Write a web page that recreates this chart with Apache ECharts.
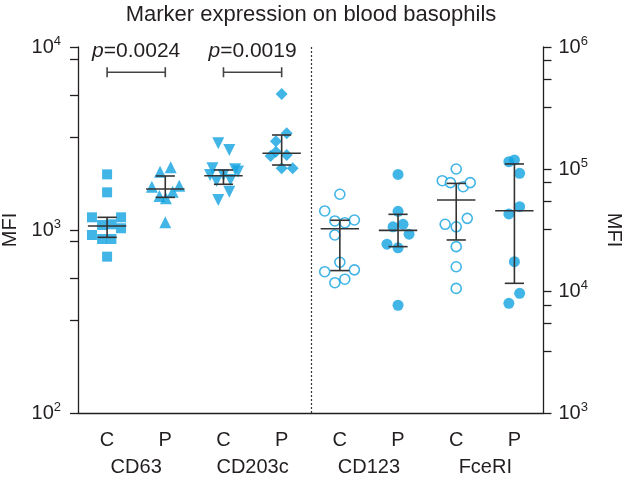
<!DOCTYPE html>
<html><head><meta charset="utf-8">
<script src="https://cdn.jsdelivr.net/npm/echarts@6/dist/echarts.min.js"></script>
<style>html,body{margin:0;padding:0;background:#fff}#c{width:622px;height:480px}</style>
</head><body><div id="c"></div>
<script>
// ---- data ----
const categories = ['C','P','C','P','C','P','C','P'];
const groups = ['CD63','CD203c','CD123','FceRI'];

// left axis (MFI 10^2..10^4)
const cd63C = [2014,1606,1173,1173,1065,1074,1022,939,893,893,715];
const cd63CJit = [0,0,-0.26,0.24,-0.086,0.074,0.24,-0.26,-0.086,0.074,0];
const cd63P = [2084,2203,1725,1745,1619,1534,1489,1102];
const cd63PJit = [-0.09,0.093,-0.23,0.24,0.127,-0.10,0.01,0];
const cd203cC = [2978,2735,2175,2147,2085,1999,1999,1854,1877,1620,1459];
const cd203cCJit = [-0.09,0.10,-0.19,0.20,0.25,-0.23,0,-0.12,0.12,0.10,-0.09];
const cd203cP = [5532,3376,3055,2678,2536,2568,2174,2174];
const cd203cPJit = [0,0.086,-0.098,-0.098,-0.19,0.086,0,0.19];

// right axis (MFI 10^3..10^6)
const cd123C = [62100,45300,37500,36300,38200,28800,17200,14400,14900,11700,12500];
const cd123CJit = [0,-0.26,-0.086,0.086,0.25,-0.086,0,-0.26,0.25,-0.086,0.086];
const cd123P = [90300,45000,33600,35200,29200,24200,22600,7640];
const cd123PJit = [0,0,-0.086,0.086,0.19,-0.19,0,0];
const fceriC = [100000,80200,77300,71600,77300,35200,33600,39400,23100,15800,10500];
const fceriCJit = [0,-0.24,-0.10,0.12,0.24,-0.19,0,0.19,0,0,0];
const fceriP = [114800,118600,92200,49100,42800,17400,9580,7930];
const fceriPJit = [-0.095,0,0.09,0.09,-0.095,0,0.09,-0.095];

// summary lines: [category index, centre line, lower bar, upper bar]
const summaryLeft = [[0,1052,912,1173],[1,1675,1508,1973],[2,1980,1778,2128],[3,2625,2265,3305]];
const summaryRight = [[4,32400,14700,38000],[5,31400,23100,42500],[6,55700,26200,76200],[7,45500,11560,110000]];

// significance brackets: [from cat, to cat, level (MFI), label]
const pBrackets = [[0,1,7280,'0.0024'],[2,3,7280,'0.0019']];

// axis ticks (log10 units)
const leftTicks = [2,2.508,2.736,2.94,3,3.508,3.734,3.934,4];
const rightTicks = [3,3.508,3.737,3.885,4,4.508,4.735,4.888,5,5.506,5.735,5.888,6];

// ---- chart ----
const BLUE = '#12a2e0';
const INK = '#231f20';
const FONT = 'Liberation Sans, Arial, Helvetica, sans-serif';
const L = Math.log10;

function pts(vals, jit, idx){ return vals.map((v,i)=>[idx+0.5+jit[i], L(v)]); }

const supRich = {
  b:{fontSize:20,lineHeight:24,fontFamily:FONT,color:INK},
  s:{fontSize:13,lineHeight:16,fontFamily:FONT,color:INK,verticalAlign:'top'}
};
function powFmt(v){ return '{b|10}{s|' + Math.round(v) + '}'; }

function summaryItem(params, api){
  const i = api.value(0), m = api.value(1), lo = api.value(2), hi = api.value(3);
  const pm = api.coord([i+0.5, m]);
  const pl = api.coord([i+0.5, lo]);
  const ph = api.coord([i+0.5, hi]);
  const hw = api.size([0.33,0])[0];
  const cw = api.size([0.165,0])[0];
  const st = {stroke:'#333',lineWidth:1.6};
  return {type:'group',children:[
    {type:'line',shape:{x1:pm[0]-hw,y1:pm[1],x2:pm[0]+hw,y2:pm[1]},style:st},
    {type:'line',shape:{x1:pl[0],y1:pl[1],x2:ph[0],y2:ph[1]},style:st},
    {type:'line',shape:{x1:pl[0]-cw,y1:pl[1],x2:pl[0]+cw,y2:pl[1]},style:st},
    {type:'line',shape:{x1:ph[0]-cw,y1:ph[1],x2:ph[0]+cw,y2:ph[1]},style:st}
  ]};
}

function bracketItem(params, api){
  const a = api.coord([api.value(0)+0.5, api.value(2)]);
  const b = api.coord([api.value(1)+0.5, api.value(2)]);
  const lab = pBrackets[params.dataIndex][3];
  const st = {stroke:'#444',lineWidth:1.6};
  return {type:'group',children:[
    {type:'line',shape:{x1:a[0],y1:a[1],x2:b[0],y2:b[1]},style:st},
    {type:'line',shape:{x1:a[0],y1:a[1]-5,x2:a[0],y2:a[1]+5},style:st},
    {type:'line',shape:{x1:b[0],y1:b[1]-5,x2:b[0],y2:b[1]+5},style:st},
    {type:'text',x:(a[0]+b[0])/2,y:a[1]-21,style:{
      text:'{i|p}{n|=' + lab + '}',
      align:'center',verticalAlign:'middle',
      rich:{
        i:{fontSize:21,fontFamily:FONT,fontStyle:'italic',fill:INK},
        n:{fontSize:21,fontFamily:FONT,fill:INK}
      }
    }}
  ]};
}

const chart = echarts.init(document.getElementById('c'), null, {renderer:'canvas'});
const axisLineStyle = {color:INK,width:1.3};

const option = {
  animation:false,
  backgroundColor:'#fff',
  title:{text:'Marker expression on blood basophils',left:'center',top:-1,
    textStyle:{fontSize:22,fontWeight:'normal',fontFamily:FONT,color:INK}},
  grid:{left:78,right:78.5,top:47,bottom:67,containLabel:false,outerBoundsMode:'none'},
  xAxis:[
    {type:'category',data:categories,boundaryGap:true,
     axisLine:{lineStyle:axisLineStyle},
     axisTick:{length:8,lineStyle:axisLineStyle},
     axisLabel:{fontSize:20,fontFamily:FONT,color:INK,margin:17},
     splitLine:{show:false}},
    {type:'category',data:groups,position:'bottom',
     axisLine:{show:false},axisTick:{show:false},
     axisLabel:{fontSize:20,fontFamily:FONT,color:INK,margin:44}},
    {type:'value',min:0,max:8,show:false}
  ],
  yAxis:[
    {type:'value',min:2,max:4,interval:1,position:'left',
     name:'MFI',nameLocation:'middle',nameGap:58,nameRotate:90,
     nameTextStyle:{fontSize:20,fontFamily:FONT,color:INK},
     axisLine:{show:true,lineStyle:axisLineStyle},
     axisTick:{show:true,length:8,lineStyle:axisLineStyle,customValues:leftTicks},
     axisLabel:{formatter:powFmt,rich:supRich,margin:17,color:INK},
     splitLine:{show:false}},
    {type:'value',min:3,max:6,interval:1,position:'right',
     name:'MFI',nameLocation:'middle',nameGap:60,nameRotate:-90,
     nameTextStyle:{fontSize:20,fontFamily:FONT,color:INK},
     axisLine:{show:true,lineStyle:axisLineStyle},
     axisTick:{show:true,length:8,lineStyle:axisLineStyle,customValues:rightTicks},
     axisLabel:{formatter:powFmt,rich:supRich,margin:15,color:INK},
     splitLine:{show:false}}
  ],
  series:[
    {type:'scatter',xAxisIndex:2,yAxisIndex:0,symbol:'rect',symbolSize:10,
     itemStyle:{color:BLUE},data:pts(cd63C,cd63CJit,0),
     markLine:{silent:true,symbol:'none',label:{show:false},
       lineStyle:{type:[2,2],color:'#333',width:1.2},data:[{xAxis:4}]}},
    {type:'scatter',xAxisIndex:2,yAxisIndex:0,symbol:'triangle',symbolSize:12,
     itemStyle:{color:BLUE},data:pts(cd63P,cd63PJit,1)},
    {type:'scatter',xAxisIndex:2,yAxisIndex:0,symbol:'triangle',symbolRotate:180,symbolSize:12,
     itemStyle:{color:BLUE},data:pts(cd203cC,cd203cCJit,2)},
    {type:'scatter',xAxisIndex:2,yAxisIndex:0,symbol:'diamond',symbolSize:12,
     itemStyle:{color:BLUE},data:pts(cd203cP,cd203cPJit,3)},
    {type:'scatter',xAxisIndex:2,yAxisIndex:1,symbol:'circle',symbolSize:10,
     itemStyle:{color:'#fff',borderColor:BLUE,borderWidth:1.6},data:pts(cd123C,cd123CJit,4)},
    {type:'scatter',xAxisIndex:2,yAxisIndex:1,symbol:'circle',symbolSize:11,
     itemStyle:{color:BLUE},data:pts(cd123P,cd123PJit,5)},
    {type:'scatter',xAxisIndex:2,yAxisIndex:1,symbol:'circle',symbolSize:10,
     itemStyle:{color:'#fff',borderColor:BLUE,borderWidth:1.6},data:pts(fceriC,fceriCJit,6)},
    {type:'scatter',xAxisIndex:2,yAxisIndex:1,symbol:'circle',symbolSize:11,
     itemStyle:{color:BLUE},data:pts(fceriP,fceriPJit,7)},
    {type:'custom',xAxisIndex:2,yAxisIndex:0,z:5,renderItem:summaryItem,
     data:summaryLeft.map(r=>[r[0],L(r[1]),L(r[2]),L(r[3])])},
    {type:'custom',xAxisIndex:2,yAxisIndex:1,z:5,renderItem:summaryItem,
     data:summaryRight.map(r=>[r[0],L(r[1]),L(r[2]),L(r[3])])},
    {type:'custom',xAxisIndex:2,yAxisIndex:0,z:5,renderItem:bracketItem,clip:false,
     data:pBrackets.map(r=>[r[0],r[1],L(r[2])])}
  ]
};
chart.setOption(option);
</script></body></html>
